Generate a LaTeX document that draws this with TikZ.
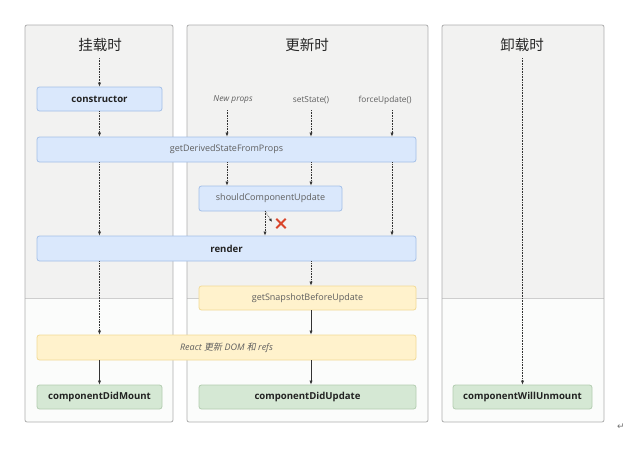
\documentclass[tikz,border=0pt]{standalone}
\usepackage{fontspec}
\setmainfont{Open Sans}
\newfontfamily\cjk{Noto Sans CJK SC}
\newfontfamily\cjkit[FakeSlant=0.2]{Noto Sans CJK SC}
\newfontfamily\symfont{DejaVu Sans}
\usetikzlibrary{arrows.meta}
\definecolor{panelfill}{HTML}{F2F2F1}
\definecolor{panellow}{HTML}{FBFCFB}
\definecolor{paneldraw}{HTML}{ADADAD}
\definecolor{bluefill}{HTML}{DAE8FC}
\definecolor{bluedraw}{HTML}{A3BFE8}
\definecolor{yellowfill}{HTML}{FFF2CC}
\definecolor{yellowdraw}{HTML}{F2DA96}
\definecolor{greenfill}{HTML}{D5E8D4}
\definecolor{greendraw}{HTML}{B3CDB1}
\definecolor{softtext}{HTML}{5E5E5E}
\definecolor{darktext}{HTML}{222222}
\definecolor{crossred}{HTML}{D9452B}
\begin{document}
\begin{tikzpicture}[x=1pt,y=-1pt,
  box/.style={rounded corners=2.5pt, line width=0.8pt, inner sep=0pt,
    font=\fontsize{9}{11}\selectfont, text=softtext},
  bluebox/.style={box, fill=bluefill, draw=bluedraw},
  yellowbox/.style={box, fill=yellowfill, draw=yellowdraw},
  greenbox/.style={box, fill=greenfill, draw=greendraw},
  strong/.style={font=\fontsize{9.6}{11}\selectfont\bfseries, text=darktext},
  title/.style={font=\fontsize{14.5}{16}\selectfont\cjk, text=black!85},
  trigger/.style={font=\fontsize{8.3}{10}\selectfont, text=softtext},
  dotflow/.style={densely dotted, line width=0.6pt, draw=black!80,
    -{Latex[length=4pt,width=3.2pt]}},
  solidflow/.style={line width=0.6pt, draw=black!80,
    -{Latex[length=4pt,width=3.2pt]}},
  panel/.style={rounded corners=2pt, draw=paneldraw, line width=0.8pt}
]
\useasboundingbox (0,0) rectangle (639,455);
\fill[white] (0,0) rectangle (639,455);

% three phase panels: grey upper band, light lower band
\foreach \xa/\xb in {25/173, 187/428, 442/604}{
  \begin{scope}
    \clip[rounded corners=2pt] (\xa,25) rectangle (\xb,422);
    \fill[panellow] (\xa,25) rectangle (\xb,422);
    \fill[panelfill] (\xa,25) rectangle (\xb,298);
  \end{scope}
  \draw[paneldraw!60, line width=0.6pt] (\xa,298) -- (\xb,298);
  \draw[panel] (\xa,25) rectangle (\xb,422);
}

% phase titles
\node[title] (tmount) at (100,45) {挂载时};
\node[title] (tupdate) at (307,45) {更新时};
\node[title] (tunmount) at (522,45) {卸载时};

% update triggers
\node[trigger, font=\fontsize{8.3}{10}\selectfont\itshape] (newprops) at (233,100) {New props};
\node[trigger] (setstate) at (311,100) {setState()};
\node[trigger] (forceupd) at (385,100) {forceUpdate()};

% lifecycle methods
\node[bluebox, strong, minimum width=125pt, minimum height=24pt] (ctor) at (99.5,99) {constructor};
\node[bluebox, minimum width=379pt, minimum height=25pt] (gdsfp) at (226.5,149.5) {getDerivedStateFromProps};
\node[bluebox, minimum width=143pt, minimum height=25pt] (scu) at (270.5,198.5) {shouldComponentUpdate};
\node[bluebox, strong, minimum width=379pt, minimum height=25pt] (render) at (226.5,248.5) {render};
\node[yellowbox, minimum width=217pt, minimum height=24pt] (snap) at (307.5,298) {getSnapshotBeforeUpdate};
\node[yellowbox, minimum width=379pt, minimum height=25pt] (dom) at (226.5,347.5)
  {\itshape React {\cjkit 更新} DOM {\cjkit 和} refs};
\node[greenbox, strong, minimum width=125pt, minimum height=24pt] (didmount) at (99.5,397) {componentDidMount};
\node[greenbox, strong, minimum width=217pt, minimum height=24pt] (didupdate) at (307.5,397) {componentDidUpdate};
\node[greenbox, strong, minimum width=139pt, minimum height=24pt] (willunmount) at (522.5,397) {componentWillUnmount};

% free starting points of the flows
\coordinate (mstart) at (99.5,58);
\coordinate (ustart) at (522.5,58);
\coordinate (npstart) at (227,110);
\coordinate (ssstart) at (311,110);
\coordinate (fustart) at (392,110);
\coordinate (scuout) at (265,211);
\coordinate (skip) at (272,222);

% mounting flow
\draw[dotflow] (mstart) -- (ctor.north);
\draw[dotflow] (ctor.south) -- (ctor.south |- gdsfp.north);
\draw[dotflow] (ctor.south |- gdsfp.south) -- (ctor.south |- render.north);
\draw[dotflow] (ctor.south |- render.south) -- (ctor.south |- dom.north);
\draw[solidflow] (ctor.south |- dom.south) -- (didmount.north);

% updating flow
\draw[dotflow] (npstart) -- (npstart |- gdsfp.north);
\draw[dotflow] (ssstart) -- (ssstart |- gdsfp.north);
\draw[dotflow] (fustart) -- (fustart |- gdsfp.north);
\draw[dotflow] (npstart |- gdsfp.south) -- (npstart |- scu.north);
\draw[dotflow] (ssstart |- gdsfp.south) -- (ssstart |- scu.north);
\draw[dotflow] (fustart |- gdsfp.south) -- (fustart |- render.north);
\draw[dotflow] (scuout) -- (scuout |- render.north);
\draw[dotflow, -{Latex[length=3.5pt,width=3pt]}] (scuout) -- (skip);
\draw[dotflow] (ssstart |- render.south) -- (ssstart |- snap.north);
\draw[solidflow] (ssstart |- snap.south) -- (ssstart |- dom.north);
\draw[solidflow] (ssstart |- dom.south) -- (ssstart |- didupdate.north);

% declined update mark
\node[inner sep=0pt, minimum size=9pt] (nomark) at (281,223.5) {};
\draw[crossred, line width=1.8pt] (nomark.north west) -- (nomark.south east)
  (nomark.south west) -- (nomark.north east);

% unmounting flow
\draw[dotflow] (ustart) -- (willunmount.north);

% paragraph mark
\node[font=\fontsize{9}{10}\selectfont\symfont, text=black!55] (pmark) at (621,427) {↵};
\end{tikzpicture}
\end{document}
